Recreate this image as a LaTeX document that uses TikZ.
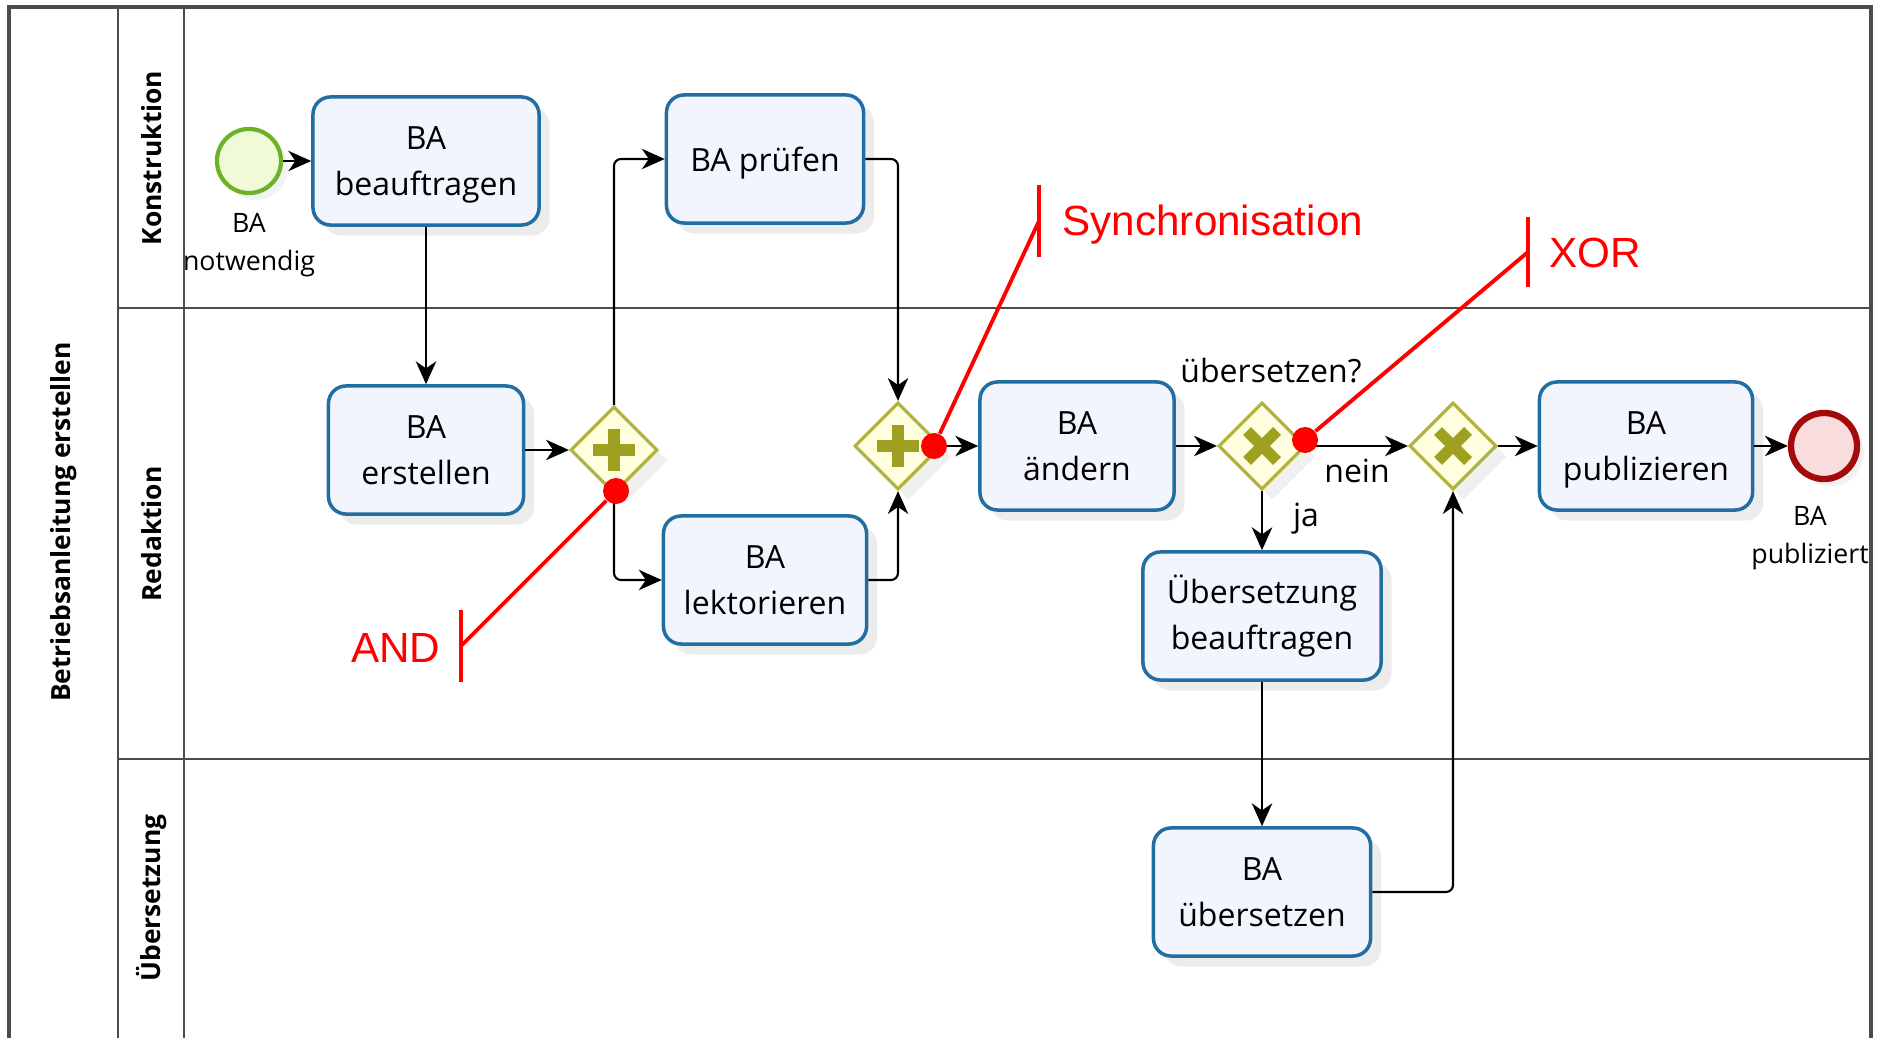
\documentclass[tikz,border=0pt]{standalone}
\usepackage{fontspec}
\setmainfont{Open Sans}
\newfontfamily\notefont{Liberation Sans}
\usepackage{tikz}
\usetikzlibrary{arrows.meta, positioning, shapes.geometric, shadows}
\usepackage{xcolor}
\definecolor{tline}{RGB}{35,110,160}
\definecolor{tfill}{RGB}{242,245,253}
\definecolor{gline}{RGB}{178,178,60}
\definecolor{gfill}{RGB}{255,255,224}
\definecolor{gmark}{RGB}{160,160,32}
\definecolor{sline}{RGB}{108,178,40}
\definecolor{sfill}{RGB}{240,250,215}
\definecolor{eline}{RGB}{165,10,10}
\definecolor{efill}{RGB}{248,220,222}

\begin{document}
\begin{tikzpicture}[
  x=0.01cm, y=-0.01cm,
  lane/.style    = {draw=black!70, line width=0.7pt},
  lanelbl/.style = {rotate=90, font=\bfseries\fontsize{7.5}{9}\selectfont},
  task/.style    = {rectangle, draw=tline, fill=tfill, line width=1pt, rounded corners=5pt,
                    minimum height=1.28cm, align=center, inner sep=2pt, text depth=0pt,
                    font=\fontsize{9.1}{13}\selectfont,
                    drop shadow={shadow xshift=3pt, shadow yshift=-3pt, opacity=0.15}},
  gw/.style      = {diamond, aspect=1, draw=gline, fill=gfill, line width=0.9pt,
                    minimum size=0.87cm, inner sep=0pt,
                    drop shadow={shadow xshift=3pt, shadow yshift=-3pt, opacity=0.12}},
  andgw/.style   = {gw, path picture={
                      \draw[gmark, line width=3.4pt]
                        (path picture bounding box.center) ++(-21,0) -- ++(42,0)
                        (path picture bounding box.center) ++(0,-21) -- ++(0,42);}},
  xorgw/.style   = {gw, path picture={
                      \draw[gmark, line width=3.2pt]
                        (path picture bounding box.center) ++(-15,-15) -- ++(30,30)
                        (path picture bounding box.center) ++(-15,15) -- ++(30,-30);}},
  startev/.style = {circle, draw=sline, fill=sfill, line width=1.2pt, minimum size=0.64cm,
                    inner sep=0pt, drop shadow={shadow xshift=2pt, shadow yshift=-2pt, opacity=0.1}},
  stopev/.style  = {circle, draw=eline, fill=efill, line width=1.8pt, minimum size=0.66cm,
                    inner sep=0pt, drop shadow={shadow xshift=2pt, shadow yshift=-2pt, opacity=0.1}},
  evlbl/.style   = {align=center, font=\fontsize{7.6}{10.8}\selectfont},
  lbl/.style     = {font=\fontsize{9.1}{13}\selectfont},
  arr/.style     = {-{Stealth[length=6.5pt, width=5.8pt, inset=2pt]}, line width=0.6pt, rounded corners=2pt},
  anno/.style    = {red, line width=1.1pt},
  dot/.style     = {circle, fill=red, minimum size=0.26cm, inner sep=0pt},
  note/.style    = {text=red, font=\notefont\fontsize{12}{14}\selectfont, inner sep=0pt}
]
\useasboundingbox (0,0) rectangle (1883,1037);
\clip (0,0) rectangle (1883,1037);

% pool and lanes
\draw[lane, line width=0.9pt] (9,1045) -- (9,7) -- (1871,7) -- (1871,1045);
\draw[lane] (118,7) -- (118,1045);
\draw[lane] (184,7) -- (184,1045);
\draw[lane] (118,308) -- (1871,308);
\draw[lane] (118,759) -- (1871,759);
\node[lanelbl] (pool) at (64,522) {Betriebsanleitung erstellen};
\node[lanelbl] (lkon) at (152,158) {Konstruktion};
\node[lanelbl] (lred) at (152,534) {Redaktion};
\node[lanelbl] (lueb) at (152,898) {Übersetzung};

% Konstruktion
\node[startev] (start) at (249,161) {};
\node[evlbl, below=1.7pt of start] (startlbl) {BA\\notwendig};
\node[task, minimum width=2.26cm] (bea) at (426,161) {BA\\beauftragen};
\node[task, minimum width=1.97cm] (pru) at (765,159) {BA prüfen};

% Redaktion
\node[task, minimum width=1.95cm] (ers) at (426,450) {BA\\erstellen};
\node[andgw] (and1) at (614,450) {};
\node[task, minimum width=2.03cm] (lek) at (765,580) {BA\\lektorieren};
\node[andgw] (and2) at (898,446) {};
\node[task, minimum width=1.94cm] (aen) at (1077,446) {BA\\ändern};
\node[xorgw] (xor1) at (1262,446) {};
\node[xorgw] (xor2) at (1453,446) {};
\node[task, minimum width=2.13cm] (pub) at (1646,446) {BA\\publizieren};
\node[stopev] (stop) at (1824,446) {};
\node[evlbl, below=3.4pt of stop, xshift=-0.14cm] (stoplbl) {BA\\publiziert};
\node[task, minimum width=2.38cm, text depth=2.2pt] (ueb) at (1262,616) {Übersetzung\\beauftragen};

% Übersetzung
\node[task, minimum width=2.17cm] (bue) at (1262,892) {BA\\übersetzen};

% sequence flows
\draw[arr] (start) -- (bea);
\draw[arr] (bea) -- (ers);
\draw[arr] (ers) -- (and1);
\draw[arr] (and1.north) |- (pru.west);
\draw[arr] (and1.south) |- (lek.west);
\draw[arr] (pru.east) -| (and2.north);
\draw[arr] (lek.east) -| (and2.south);
\draw[arr] (and2) -- (aen);
\draw[arr] (aen) -- (xor1);
\draw[arr] (xor1) -- (xor2);
\draw[arr] (xor1) -- (ueb);
\draw[arr] (xor2) -- (pub);
\draw[arr] (pub) -- (stop);
\draw[arr] (ueb) -- (bue);
\draw[arr] (bue.east) -| (xor2.south);
\node[lbl, anchor=base] (qlbl) at (1271,383) {übersetzen?};
\node[lbl, anchor=base] (neinlbl) at (1357,482) {nein};
\node[lbl, anchor=base] (jalbl) at (1306,526) {ja};

% annotations
\coordinate (andbar) at (461,646);
\coordinate (syncbar) at (1039,221);
\coordinate (xorbar) at (1528,252);
\node[dot] (dand) at (616,491) {};
\node[dot] (dsync) at (934,446) {};
\node[dot] (dxor) at (1305,440) {};
\draw[anno] (andbar) ++(0,-36) -- ++(0,72);
\draw[anno] (syncbar) ++(0,-36) -- ++(0,72);
\draw[anno] (xorbar) ++(0,-35) -- ++(0,70);
\draw[anno] (andbar) -- (dand);
\draw[anno] (syncbar) -- (dsync);
\draw[anno] (xorbar) -- (dxor);
\node[note, anchor=base east] (andtxt) at (441,662) {AND};
\node[note, anchor=base west] (synctxt) at (1062,236) {Synchronisation};
\node[note, anchor=base west] (xortxt) at (1549,268) {XOR};
\end{tikzpicture}
\end{document}
